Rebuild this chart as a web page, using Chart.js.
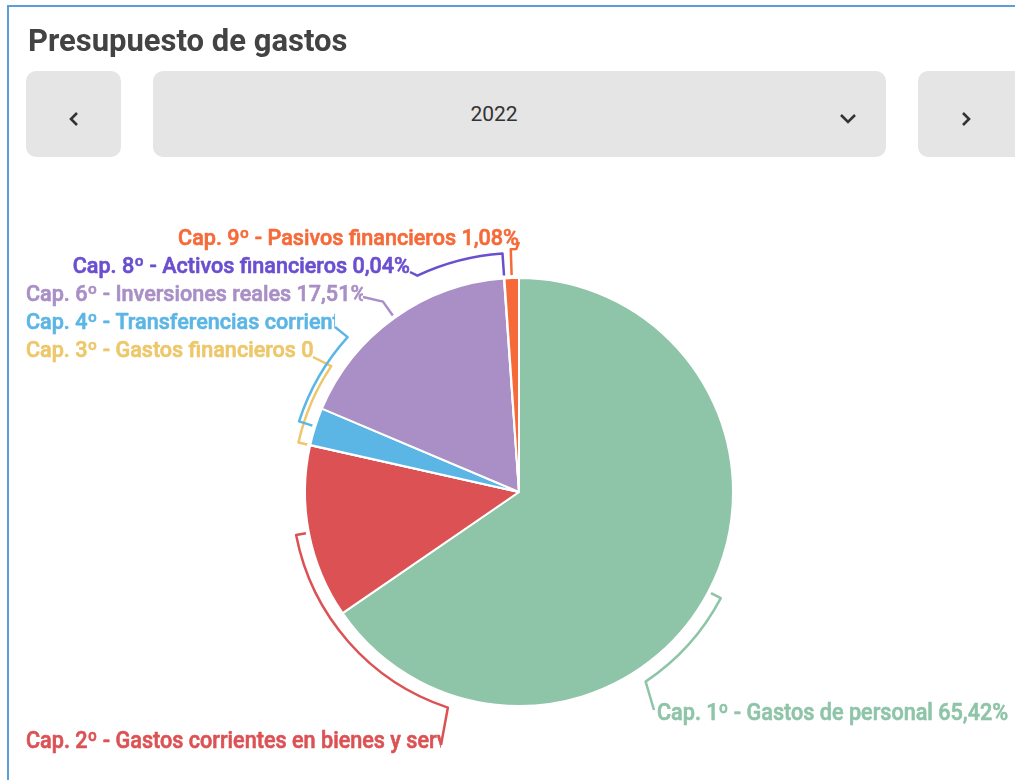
<!DOCTYPE html>
<html lang="es">
<head>
<meta charset="utf-8">
<title>Presupuesto de gastos</title>
<script src="https://cdn.jsdelivr.net/npm/chart.js@4.4.1/dist/chart.umd.min.js"></script>
<style>
  html, body { margin: 0; padding: 0; background: #fff; }
  body { width: 1015px; height: 780px; overflow: hidden; position: relative; font-family: Roboto, "Noto Sans", sans-serif; }
  .frame { position: absolute; left: 7px; top: 5px; width: 1100px; height: 900px; border-left: 2px solid #5c9ddc; border-top: 2px solid #5c9ddc; }
  h1 { position: absolute; left: 28px; top: 22px; margin: 0; font: 700 31px Roboto, sans-serif; color: #434343; z-index: 2; }
  .btn { position: absolute; top: 71px; height: 86px; background: #e5e5e5; border-radius: 10px; z-index: 2; }
  .btn svg { position: absolute; }
  .year { position: absolute; left: 0; width: 682px; top: 31px; text-align: center; font: 400 21px Roboto, sans-serif; color: #333; }
  #chart { position: absolute; left: 0; top: 0; z-index: 1; }
</style>
</head>
<body>
<div class="frame"></div>
<h1>Presupuesto de gastos</h1>
<div class="btn" style="left:26px;width:95px;">
  <svg style="left:42px;top:40px" width="12" height="16"><polyline points="9,2 3,8 9,14" fill="none" stroke="#333" stroke-width="2.6"/></svg>
</div>
<div class="btn" style="left:153px;width:733px;">
  <div class="year">2022</div>
  <svg style="left:686px;top:41px" width="18" height="12"><polyline points="2,3 9,10 16,3" fill="none" stroke="#333" stroke-width="2.6"/></svg>
</div>
<div class="btn" style="left:918px;width:120px;">
  <svg style="left:42px;top:40px" width="12" height="16"><polyline points="3,2 9,8 3,14" fill="none" stroke="#333" stroke-width="2.6"/></svg>
</div>
<canvas id="chart" width="1015" height="780"></canvas>
<script>
// Capítulos del presupuesto de gastos 2022 (% sobre el total)
const capitulos = [
    'Cap. 1º - Gastos de personal',
    'Cap. 2º - Gastos corrientes en bienes y servicios',
    'Cap. 3º - Gastos financieros',
    'Cap. 4º - Transferencias corrientes',
    'Cap. 6º - Inversiones reales',
    'Cap. 8º - Activos financieros',
    'Cap. 9º - Pasivos financieros'
];
const porcentajes = [65.42, 13.08, 0.02, 2.85, 17.51, 0.04, 1.08];
const colores = ['#8ec4a7', '#dc5254', '#edc76a', '#5cb6e5', '#a98fc6', '#6a4fd0', '#f66a39'];

const fmt = v => v.toFixed(2).replace('.', ',') + '%';

// Líneas guía de las etiquetas (estilo del original)
const guias = [
    { r1: 14, sweep: 28.5, ax: 135, ay: 218, lado: 'der', cond: true },
    { r1: 13, sweep: -60.8, ax: -78, ay: 253, ty: 256, lado: 'izq', cond: true },
    { r1: 12, sweep: 21.2, ax: -206, ay: -135, ty: -135, lado: 'izq' },
    { r1: 17, sweep: 24.3, ax: -184, ay: -165, ty: -163, lado: 'izq' },
    { r1: 20, sweep: 0, ax: -156, ay: -195, ty: -191, lado: 'izq' },
    { r1: 25, sweep: -21.2, ax: -109, ay: -220, ty: -219, lado: 'izq' },
    { r1: 29, sweep: 1.3, ax: 0, ay: -250, ty: -247, lado: 'izq' }
];

const guiasPlugin = {
    id: 'guias',
    afterDatasetsDraw(chart) {
        const ctx = chart.ctx;
        const meta = chart.getDatasetMeta(0);
        const margenIzq = 26;
        meta.data.forEach((arc, i) => {
            const p = arc.getProps(['x', 'y', 'startAngle', 'endAngle', 'outerRadius'], true);
            const g = guias[i];
            const mid = (p.startAngle + p.endAngle) / 2;
            const R = p.outerRadius;
            const rb = R + g.r1;
            const fin = mid + g.sweep * Math.PI / 180;
            ctx.save();
            ctx.strokeStyle = colores[i];
            ctx.lineWidth = 2.5;
            ctx.lineJoin = 'round';
            ctx.beginPath();
            ctx.moveTo(p.x + (R + 3) * Math.cos(mid), p.y + (R + 3) * Math.sin(mid));
            ctx.lineTo(p.x + rb * Math.cos(mid), p.y + rb * Math.sin(mid));
            if (g.sweep !== 0) ctx.arc(p.x, p.y, rb, mid, fin, g.sweep < 0);
            const ax = p.x + g.ax, ay = p.y + g.ay;
            ctx.lineTo(ax, ay);
            ctx.stroke();

            // texto
            const texto = capitulos[i] + ' ' + fmt(porcentajes[i]);
            ctx.fillStyle = colores[i];
            ctx.strokeStyle = colores[i];
            ctx.lineWidth = 0.6;
            ctx.textBaseline = 'alphabetic';
            const sx = g.cond ? 0.94 : 1;
            ctx.font = g.cond ? '500 23px Roboto' : '500 21.6px Roboto';
            const w = ctx.measureText(texto).width * sx;
            if (g.lado === 'der') {
                ctx.translate(ax + 3, ay + 10);
                ctx.scale(sx, 1);
            } else {
                const ty = p.y + g.ty;
                const x0 = Math.max(margenIzq, ax - w);
                ctx.beginPath();
                ctx.rect(margenIzq - 2, ty - 30, ax - margenIzq + 2, 40);
                ctx.clip();
                ctx.translate(x0, ty);
                ctx.scale(sx, 1);
            }
            ctx.fillText(texto, 0, 0);
            ctx.strokeText(texto, 0, 0);
            ctx.restore();
        });
    }
};

new Chart(document.getElementById('chart'), {
    type: 'pie',
    data: {
        labels: capitulos,
        datasets: [{
            data: porcentajes,
            backgroundColor: colores,
            borderColor: '#ffffff',
            borderWidth: 2
        }]
    },
    options: {
        responsive: false,
        animation: false,
        devicePixelRatio: 1,
        layout: { padding: { left: 304, right: 281, top: 277, bottom: 73 } },
        plugins: {
            legend: { display: false },
            tooltip: { enabled: false }
        }
    },
    plugins: [guiasPlugin]
});
</script>
</body>
</html>
